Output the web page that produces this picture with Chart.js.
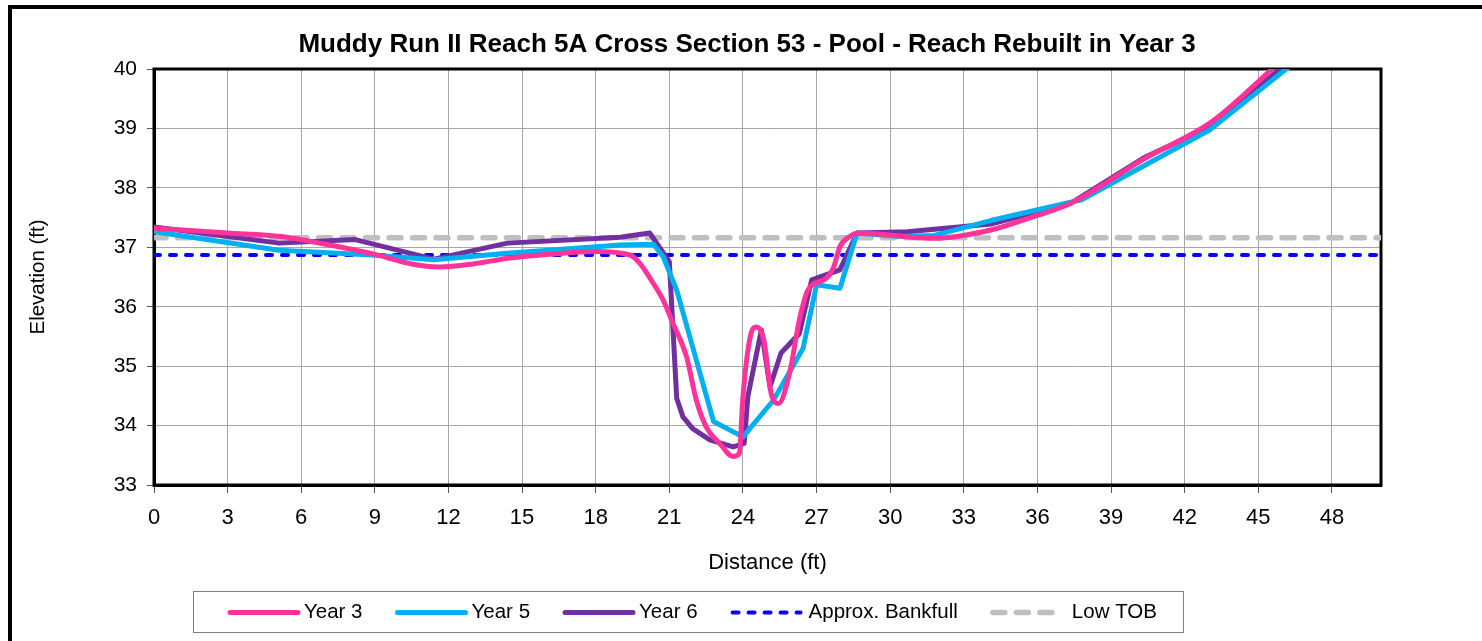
<!DOCTYPE html>
<html>
<head>
<meta charset="utf-8">
<script src="https://cdn.jsdelivr.net/npm/chart.js@4.4.1/dist/chart.umd.min.js"></script>
<style>
  html, body { margin: 0; padding: 0; background: #fff; overflow: hidden; }
  #frame { position: absolute; left: 8px; top: 5px; width: 1478px; height: 640px; border-left: 4px solid #000; border-top: 4px solid #000; }
  #chart { display: block; }
</style>
</head>
<body>
<div id="frame"><canvas id="chart" width="1478" height="632"></canvas></div>
<script>
// chart data (distance ft / elevation ft)
const chartTitle = "Muddy Run II Reach 5A Cross Section 53 - Pool - Reach Rebuilt in Year 3";

const year3X = [0, 3, 5.2, 7, 9, 10.5, 11.6, 13, 14.5, 16, 18, 19.4, 19.8, 20.35, 20.75, 21.15, 21.7, 22.1, 22.5, 23.05, 23.6, 23.85, 24.0, 24.3, 24.55, 24.85, 25.15, 25.45, 25.9, 26.3, 26.65, 27.4, 27.7, 27.95, 28.35, 28.7, 31.8, 34.1, 35.8, 37.4, 40.4, 43.1, 45.7];
const year3Y = [37.32, 37.24, 37.18, 37.05, 36.88, 36.72, 36.67, 36.72, 36.82, 36.88, 36.93, 36.87, 36.73, 36.39, 36.11, 35.72, 35.16, 34.43, 33.98, 33.7, 33.48, 33.53, 34.49, 35.5, 35.66, 35.44, 34.54, 34.37, 34.88, 35.78, 36.28, 36.48, 36.67, 37.01, 37.18, 37.24, 37.15, 37.29, 37.51, 37.75, 38.5, 39.11, 40.05];

const year5X = [0, 5.1, 8.9, 11.4, 14.4, 19, 20.35, 20.75, 21.3, 22.8, 24.0, 25.25, 26.45, 27.0, 27.95, 28.65, 30.4, 31.8, 34.1, 37.8, 43.0, 46.2];
const year5Y = [37.26, 36.95, 36.87, 36.79, 36.9, 37.04, 37.05, 36.84, 36.28, 34.07, 33.81, 34.43, 35.3, 36.37, 36.31, 37.24, 37.18, 37.2, 37.45, 37.8, 38.97, 40.02];

const year6X = [0, 5.1, 8.2, 11.4, 14.4, 19.0, 20.2, 21.0, 21.3, 21.55, 21.95, 22.65, 23.6, 24.05, 24.2, 24.75, 25.1, 25.55, 26.3, 26.8, 27.95, 28.65, 30.7, 34.1, 37.4, 40.4, 43.1, 46.0];
const year6Y = [37.34, 37.07, 37.13, 36.8, 37.07, 37.17, 37.24, 36.76, 34.46, 34.15, 33.95, 33.76, 33.64, 33.7, 34.49, 35.61, 34.65, 35.22, 35.55, 36.45, 36.62, 37.24, 37.26, 37.39, 37.75, 38.52, 39.04, 40.04];

const bankfullX = [0, 50];
const bankfullY = [36.87, 36.87];
const lowTobX = [0, 50];
const lowTobY = [37.16, 37.16];

const xMin = 0, xMax = 50, xStep = 3;
const yMin = 33, yMax = 40, yStep = 1;

const FONT = "'Liberation Sans', Arial, sans-serif";
Chart.defaults.font.family = FONT;
Chart.defaults.color = "#000";

function toPoints(xs, ys) {
  return xs.map((x, i) => ({ x: x, y: ys[i] }));
}

// title drawn by hand so it centres on the whole frame, not the padded box
const frameTitle = {
  id: "frameTitle",
  afterDraw(chart) {
    const ctx = chart.ctx;
    ctx.save();
    ctx.font = "bold 26px " + FONT;
    ctx.fillStyle = "#000";
    ctx.textAlign = "center";
    ctx.textBaseline = "middle";
    ctx.fillText(chartTitle, chart.width / 2 - 4, 36);
    ctx.restore();
  }
};

// frame round the plot area
const plotFrame = {
  id: "plotFrame",
  beforeDatasetsDraw(chart) {
    const { ctx, chartArea: a } = chart;
    ctx.save();
    ctx.strokeStyle = "#000";
    ctx.lineWidth = 3;
    ctx.strokeRect(a.left, a.top, a.right - a.left, a.bottom - a.top);
    ctx.restore();
  }
};

// boxed legend under the x axis title
const legendBox = {
  id: "legendBox",
  afterDraw(chart) {
    const ctx = chart.ctx;
    const area = chart.chartArea;
    const left = area.left + 39, top = area.bottom + 106, width = 990, height = 41;
    ctx.save();
    ctx.strokeStyle = "#808080";
    ctx.lineWidth = 1;
    ctx.strokeRect(left + 0.5, top + 0.5, width, height);
    ctx.font = "20.5px " + FONT;
    ctx.textBaseline = "middle";
    const sample = 68, gap = 6, itemGap = 35;
    let x = left + 37;
    const y = top + height / 2 + 1;
    chart.data.datasets.forEach((ds, i) => {
      ctx.beginPath();
      ctx.strokeStyle = ds.borderColor;
      ctx.lineWidth = ds.borderWidth;
      ctx.lineCap = "round";
      ctx.setLineDash(ds.borderDash || []);
      ctx.moveTo(x, y);
      ctx.lineTo(x + sample, y);
      ctx.stroke();
      ctx.setLineDash([]);
      x += sample + gap + (i >= 3 ? i * 3 - 7 : 0);
      ctx.fillStyle = "#000";
      ctx.fillText(ds.label, x, y);
      x += ctx.measureText(ds.label).width + itemGap;
    });
    ctx.restore();
  }
};

const ctx = document.getElementById("chart");

new Chart(ctx, {
  type: "line",
  data: {
    datasets: [
      {
        label: "Year 3",
        data: toPoints(year3X, year3Y),
        borderColor: "#FF3399",
        borderWidth: 5,
        cubicInterpolationMode: "monotone",
        borderCapStyle: "round",
        borderJoinStyle: "round",
        pointRadius: 0,
        fill: false,
      },
      {
        label: "Year 5",
        data: toPoints(year5X, year5Y),
        borderColor: "#00B0F0",
        borderWidth: 5,
        borderCapStyle: "round",
        borderJoinStyle: "round",
        pointRadius: 0,
        fill: false,
      },
      {
        label: "Year 6",
        data: toPoints(year6X, year6Y),
        borderColor: "#7030A0",
        borderWidth: 5,
        borderCapStyle: "round",
        borderJoinStyle: "round",
        pointRadius: 0,
        fill: false,
      },
      {
        label: "Approx. Bankfull",
        data: toPoints(bankfullX, bankfullY),
        borderColor: "#0000FF",
        borderWidth: 4,
        borderDash: [6, 10],
        borderCapStyle: "round",
        pointRadius: 0,
        fill: false,
      },
      {
        label: "Low TOB",
        data: toPoints(lowTobX, lowTobY),
        borderColor: "#BFBFBF",
        borderWidth: 5.5,
        borderDash: [12, 11.5],
        borderCapStyle: "round",
        pointRadius: 0,
        fill: false,
      },
    ],
  },
  options: {
    responsive: false,
    animation: false,
    layout: { padding: { left: 0, right: 109, top: 60, bottom: 56 } },
    plugins: {
      legend: { display: false },
      tooltip: { enabled: false },
      title: { display: false },
    },
    scales: {
      x: {
        type: "linear",
        min: xMin,
        max: xMax,
        afterBuildTicks: (scale) => {
          scale.ticks = scale.ticks.filter((t) => t.value % xStep === 0);
        },
        afterFit: (scale) => { scale.height = 100; },
        ticks: { stepSize: xStep, color: "#000", font: { size: 22 }, padding: 12, maxRotation: 0 },
        grid: { color: "#a6a6a6", lineWidth: 1, tickLength: 8, tickColor: "#555" },
        border: { color: "#000", width: 3 },
        title: { display: true, text: "Distance (ft)", color: "#000", font: { size: 22 }, padding: { bottom: 9 } },
      },
      y: {
        min: yMin,
        max: yMax,
        afterFit: (scale) => { scale.width = 142; },
        ticks: { stepSize: yStep, color: "#000", font: { size: 21 }, padding: 10 },
        grid: { color: "#a6a6a6", lineWidth: 1, tickLength: 7, tickColor: "#555" },
        border: { color: "#000", width: 3 },
        title: { display: true, text: "Elevation (ft)", color: "#000", font: { size: 20.5 }, padding: { top: 14 } },
      },
    },
  },
  plugins: [plotFrame, legendBox, frameTitle],
});
</script>
</body>
</html>
